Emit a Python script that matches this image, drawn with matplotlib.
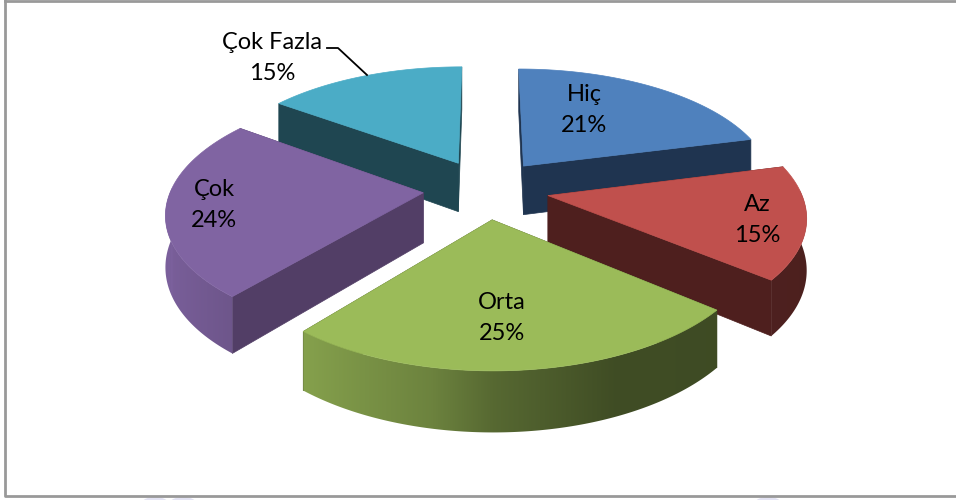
import numpy as np
import matplotlib
matplotlib.use('Agg')
import matplotlib.pyplot as plt
from matplotlib.patches import Polygon, Ellipse

names = ['Hiç', 'Az', 'Orta', 'Çok', 'Çok Fazla']
shares = [21, 15, 25, 24, 15]
colors = ['#4F81BD', '#C0504D', '#9BBB59', '#8064A2', '#4BACC6']
side_colors = ['#1F3450', '#4E1F1E', '#3F4C22', '#523E66', '#1F4651']

# projection of the pie, in pixels
cx, cy = 486, 189
rx, ry = 252, 118
persp = 0.15
height = 50
explode_x, explode_y = 0.25, 0.253


def project(x, y, z=0):
    s = 1 / (1 - persp * y)
    return cx + rx * x * s, cy + ry * y * s + height * z * s


def rim(t, off):
    return np.sin(t) + off[0], -np.cos(t) + off[1]


def shade(t):
    return np.interp(np.sin(t), [-1, -0.64, -0.2, 0, 0.4, 1],
                     [0.97, 0.86, 0.7, 0.56, 0.41, 0.40])


fig = plt.figure(figsize=(9.56, 5.0), dpi=100)
ax = fig.add_axes([0, 0, 1, 1])

# frame and the faint marks under it
ax.plot([5, 5, 956], [0, 496, 496], color='#999999', lw=2, zorder=1)
ax.plot([5, 956], [0.5, 0.5], color='#999999', lw=2, zorder=1)
for px in (155, 183, 768):
    ax.add_patch(Ellipse((px, 503), 26, 12, color='#E4E4F4', lw=0, zorder=0))

total = sum(shares)
edges = np.cumsum([0] + shares) / total * 2 * np.pi
order = [4, 0, 3, 1, 2]  # back to front

for k, i in enumerate(order):
    z = 2 + k
    t0, t1 = edges[i], edges[i + 1]
    mid = (t0 + t1) / 2
    off = (explode_x * np.sin(mid), -explode_y * np.cos(mid))
    ts = np.linspace(t0, t1, 200)
    px_, py_ = rim(ts, off)
    top = np.array(project(px_, py_)).T
    apex = project(off[0], off[1])
    apex_low = project(off[0], off[1], 1)

    # flat cut faces
    for t in (t0, t1):
        ex, ey = rim(t, off)
        face = [apex, project(ex, ey), project(ex, ey, 1), apex_low]
        ax.add_patch(Polygon(face, fc=side_colors[i], ec=side_colors[i], lw=0.5, zorder=z))

    # outer wall, gradient image clipped to its outline
    vis = -np.cos(ts) > -0.05
    if vis.any():
        up = np.array(project(px_[vis], py_[vis])).T
        low = np.array(project(px_[vis], py_[vis], 1)).T
        wall = Polygon(np.vstack([up, low[::-1]]), fc='none', ec='none', transform=ax.transData)
        ax.add_patch(wall)
        sort = np.argsort(up[:, 0])
        xs = np.arange(up[:, 0].min() - 2, up[:, 0].max() + 3)
        fs = np.interp(xs, up[sort, 0], shade(ts[vis][sort]))
        img = np.array(matplotlib.colors.to_rgb(colors[i]))[None, None, :] * fs[None, :, None]
        im = ax.imshow(img, extent=(xs[0], xs[-1], low[:, 1].max() + 2, up[:, 1].min() - 2),
                       aspect='auto', zorder=z, interpolation='bilinear')
        im.set_clip_path(wall)

    ax.add_patch(Polygon(np.vstack([[apex], top]), fc=colors[i], ec=colors[i], lw=0.5, zorder=z + 0.5))

# labels
label_pos = {'Hiç': (584, 110), 'Az': (757, 220), 'Orta': (502, 318), 'Çok': (214, 205), 'Çok Fazla': (272, 58)}
for n, v in zip(names, shares):
    ax.text(label_pos[n][0], label_pos[n][1], '%s\n%d%%' % (n, v), family='Lato', fontsize=17,
            ha='center', va='center', linespacing=1.6, color='black', zorder=10)

ax.plot([327, 338, 367], [48, 48, 75], color='black', lw=1.3, zorder=10)

ax.set_xlim(0, 956)
ax.set_ylim(500, 0)
ax.axis('off')

fig.savefig('out.png', dpi=100)
